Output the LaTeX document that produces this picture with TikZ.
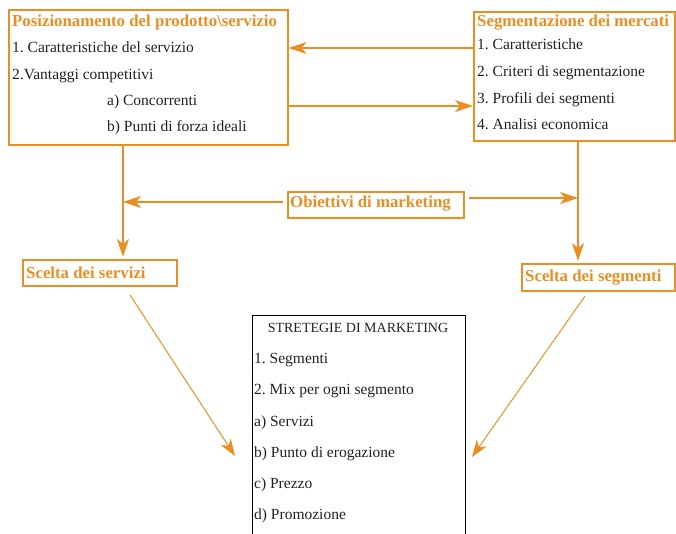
\documentclass[tikz,border=0pt]{standalone}
\usepackage{fontspec}
\setmainfont{Liberation Serif}
\usetikzlibrary{arrows.meta}
\definecolor{mkorange}{RGB}{234,142,36}
\definecolor{inkgray}{RGB}{35,31,32}
\frenchspacing
\begin{document}
\begin{tikzpicture}[x=1pt,y=-1pt,
  obox/.style={draw=mkorange, line width=1.6pt, inner sep=0pt, anchor=north west},
  head/.style={text=mkorange, font=\fontsize{16.8}{20}\selectfont\bfseries, inner sep=0pt, anchor=base west},
  item/.style={text=inkgray, font=\fontsize{15.5}{18}\selectfont, inner sep=0pt, anchor=base west},
  conn/.style={draw=mkorange, line width=1.5pt, -{Stealth[length=18pt,width=12pt,inset=5pt]}},
  diag/.style={draw=mkorange, line width=1pt, -{Stealth[length=17pt,width=12pt,inset=5pt]}}]
\useasboundingbox (0,0) rectangle (676,534);
\clip (0,0) rectangle (676,534);

% frames
\node[obox, minimum width=279, minimum height=135] (pos) at (8,9) {};
\node[obox, minimum width=201, minimum height=129] (seg) at (473,11) {};
\node[obox, minimum width=176, minimum height=26] (obj) at (287,191) {};
\node[obox, minimum width=154, minimum height=26] (serv) at (22,259) {};
\node[obox, minimum width=153, minimum height=27] (segm) at (521,263) {};
\node[draw=black, line width=1pt, inner sep=0pt, anchor=north west,
      minimum width=213, minimum height=240] (strat) at (252,315) {};

% product / service positioning
\node[head] (posT) at (12,27) {Posizionamento del prodotto\textbackslash servizio};
\node[item] (pos1) at (12,53) {1. Caratteristiche del servizio};
\node[item] (pos2) at (12,80) {2.Vantaggi competitivi};
\node[item] (pos2a) at (107,106) {a) Concorrenti};
\node[item] (pos2b) at (107,132) {b) Punti di forza ideali};

% market segmentation
\node[head] (segT) at (477,27) {Segmentazione dei mercati};
\node[item] (seg1) at (477,50) {1. Caratteristiche};
\node[item] (seg2) at (477,77) {2. Criteri di segmentazione};
\node[item] (seg3) at (477,104) {3. Profili dei segmenti};
\node[item] (seg4) at (477,130) {4. Analisi economica};

% objectives and choices
\node[head] (objT) at (290,208) {Obiettivi di marketing};
\node[head] (servT) at (26,278) {Scelta dei servizi};
\node[head] (segmT) at (525,281) {Scelta dei segmenti};

% marketing strategies
\node[item, anchor=base, font=\fontsize{14}{17}\selectfont] (stratT) at (358,332) {STRETEGIE DI MARKETING};
\node[item] (st1) at (254,363) {1. Segmenti};
\node[item] (st2) at (254,394) {2. Mix per ogni segmento};
\node[item] (st3) at (254,426) {a) Servizi};
\node[item] (st4) at (254,457) {b) Punto di erogazione};
\node[item] (st5) at (254,488) {c) Prezzo};
\node[item] (st6) at (254,519) {d) Promozione};

% helper coordinates
\coordinate (yA) at (0,48);
\coordinate (yB) at (0,106);
\coordinate (yC) at (0,202);
\coordinate (yD) at (0,198);
\coordinate (xL) at (123,0);
\coordinate (xR) at (578,0);
\coordinate (oL) at ([xshift=-4pt]obj.west);
\coordinate (oR) at ([xshift=4pt]obj.east);
\coordinate (d1s) at (130,295);
\coordinate (d1e) at (235,456);
\coordinate (d2s) at (585,296);
\coordinate (d2e) at (472,457);

% connectors
\draw[conn] (seg.west |- yA) -- (pos.east |- yA);
\draw[conn] (pos.east |- yB) -- (seg.west |- yB);
\draw[conn, shorten >=2pt] (pos.south -| xL) -- (serv.north -| xL);
\draw[conn, shorten >=2pt] (seg.south -| xR) -- (segm.north -| xR);
\draw[conn] (oL |- yC) -- (xL |- yC);
\draw[conn] (oR |- yD) -- (xR |- yD);
\draw[diag] (d1s) -- (d1e);
\draw[diag] (d2s) -- (d2e);
\end{tikzpicture}
\end{document}
